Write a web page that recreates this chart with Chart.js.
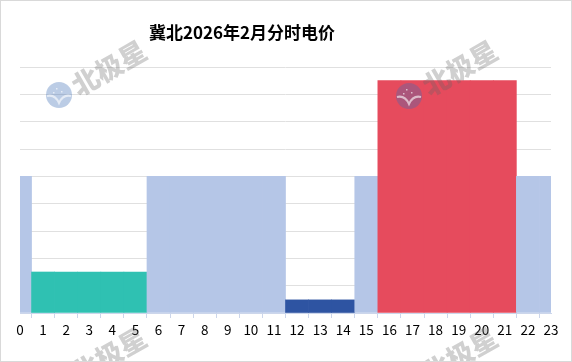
<!DOCTYPE html>
<html>
<head>
<meta charset="utf-8">
<script src="https://cdn.jsdelivr.net/npm/chart.js@4.4.1/dist/chart.umd.min.js"></script>
<style>
  body { margin: 0; background: #fff; }
  canvas { display: block; }
</style>
</head>
<body>
<canvas id="myChart" width="572" height="362"></canvas>
<script>
// hours of the day, 0..23
const hours = ['0','1','2','3','4','5','6','7','8','9','10','11','12','13','14','15','16','17','18','19','20','21','22','23'];
// period of each hour: flat / valley / deep valley / peak
const periods = ['flat','valley','valley','valley','valley','valley','flat','flat','flat','flat','flat','flat',
                 'deep','deep','deep','flat','peak','peak','peak','peak','peak','peak','flat','flat'];
// relative price per hour
const prices = [0.5,0.15,0.15,0.15,0.15,0.15,0.5,0.5,0.5,0.5,0.5,0.5,
                0.048,0.048,0.048,0.5,0.85,0.85,0.85,0.85,0.85,0.85,0.5,0.5];

const periodColors = { flat: '#b5c6e7', valley: '#2fc1b2', deep: '#2e54a2', peak: '#e64b5d' };

const font = "'Noto Sans CJK SC', 'Noto Sans', sans-serif";

const decor = {
    id: 'decor',
    afterDraw(chart) {
        const ctx = chart.ctx;
        ctx.save();
        // title
        ctx.fillStyle = '#000';
        ctx.font = 'bold 17px ' + font;
        ctx.textAlign = 'center';
        ctx.textBaseline = 'middle';
        ctx.fillText('冀北2026年2月分时电价', 242, 33);

        // watermarks
        const marks = [[109, 68, 59, 95], [460, 68, 409, 96], [109, 355, 59, 382], [460, 355, 409, 383]];
        marks.forEach(function(m) {
            ctx.save();
            ctx.translate(m[0], m[1]);
            ctx.rotate(-0.52);
            ctx.fillStyle = 'rgba(100,100,100,0.3)';
            ctx.font = '900 27px ' + font;
            ctx.fillText('北极星', 0, 0);
            ctx.restore();
            ctx.beginPath();
            ctx.arc(m[2], m[3], 13, 0, Math.PI * 2);
            ctx.fillStyle = 'rgba(60,110,180,0.35)';
            ctx.fill();
            ctx.beginPath();
            ctx.moveTo(m[2] - 12, m[3] + 1);
            ctx.quadraticCurveTo(m[2] - 4, m[3] - 1, m[2], m[3] + 8);
            ctx.quadraticCurveTo(m[2] + 4, m[3] - 1, m[2] + 12, m[3] + 1);
            ctx.strokeStyle = 'rgba(255,255,255,0.6)';
            ctx.lineWidth = 2;
            ctx.stroke();
            ctx.fillStyle = 'rgba(255,255,255,0.6)';
            [[-3, -7], [2, -4], [-6, -3]].forEach(function(s) {
                ctx.fillRect(m[2] + s[0], m[3] + s[1], 1.5, 1.5);
            });
        });

        // frame
        ctx.strokeStyle = '#d9d9d9';
        ctx.lineWidth = 1;
        ctx.strokeRect(0.5, 0.5, 571, 361);
        ctx.restore();
    }
};

new Chart('myChart', {
    type: 'bar',
    data: {
        labels: hours,
        datasets: [{
            data: prices,
            backgroundColor: periods.map(function(p) { return periodColors[p]; }),
            borderWidth: 0,
            barPercentage: 1,
            categoryPercentage: 1
        }]
    },
    options: {
        responsive: false,
        animation: false,
        layout: { padding: { left: 20, right: 21, top: 67, bottom: 0 } },
        plugins: {
            legend: { display: false },
            tooltip: { enabled: false }
        },
        scales: {
            x: {
                offset: false,
                grid: { drawOnChartArea: false, drawTicks: true, tickLength: 5, color: '#ccd6eb' },
                border: { color: '#ccd6eb' },
                ticks: { color: '#000', font: { family: font, size: 13.5 }, padding: 4, maxRotation: 0, autoSkip: false },
                afterFit: function(s) { s.height = 49; }
            },
            y: {
                min: 0,
                max: 0.9,
                ticks: { display: false, stepSize: 0.1 },
                grid: { color: '#e0e0e0', drawTicks: false },
                border: { display: false },
                afterFit: function(s) { s.width = 0; }
            }
        }
    },
    plugins: [decor]
});
</script>
</body>
</html>
